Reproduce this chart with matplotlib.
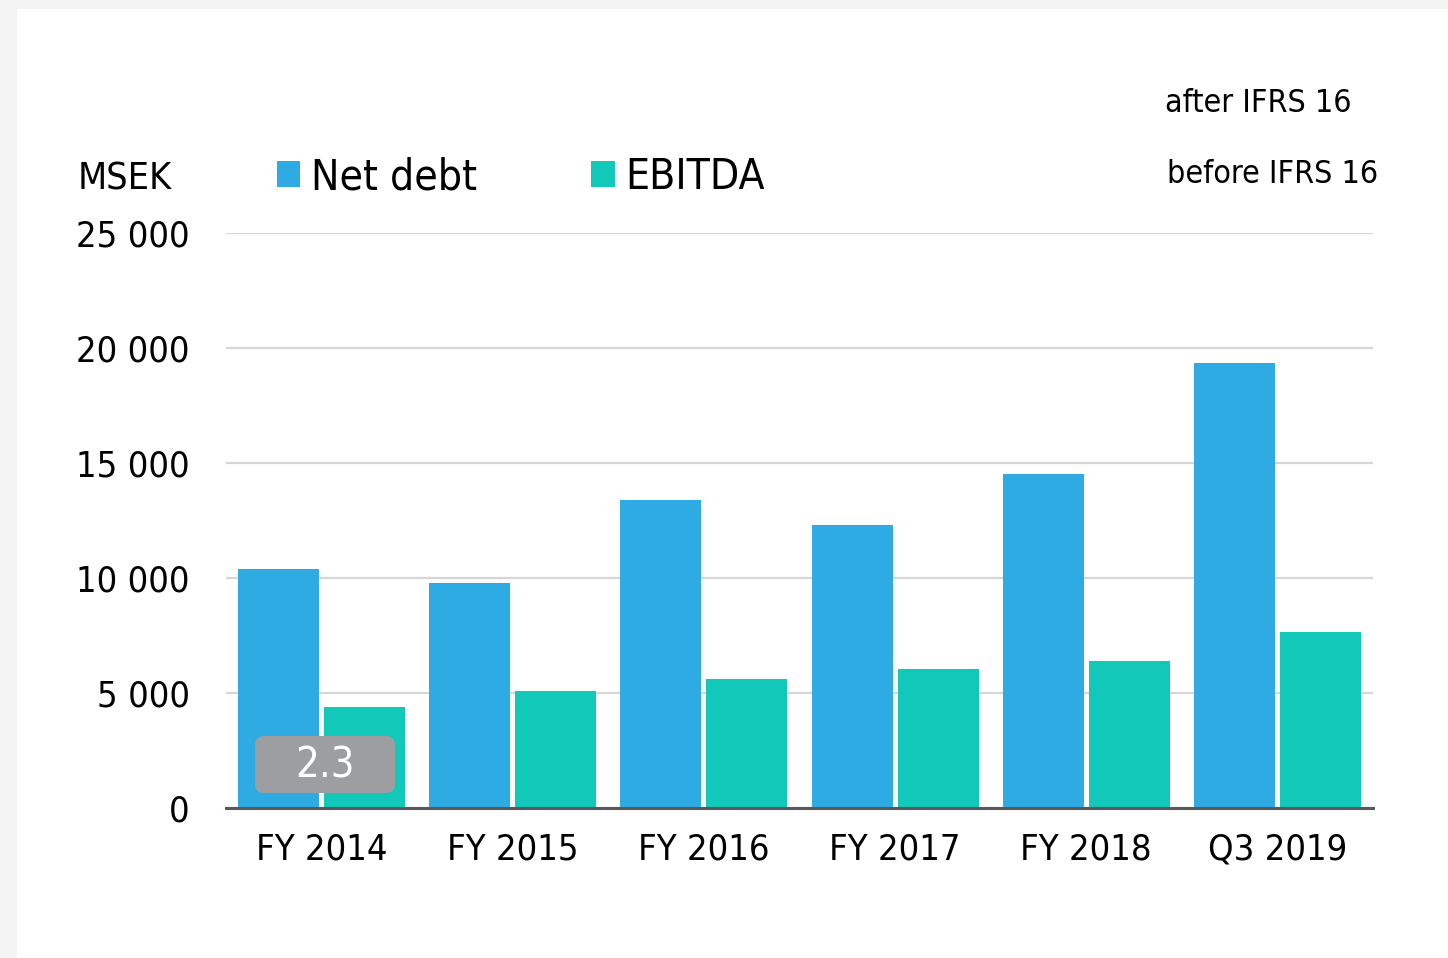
import matplotlib
matplotlib.use("Agg")
import matplotlib.pyplot as plt
from matplotlib.patches import Rectangle, FancyBboxPatch
import numpy as np

categories = ["FY 2014", "FY 2015", "FY 2016", "FY 2017", "FY 2018", "Q3 2019"]
net_debt = [10400, 9800, 13400, 12300, 14500, 19350]
ebitda = [4400, 5100, 5600, 6050, 6400, 7650]
yticks = [0, 5000, 10000, 15000, 20000, 25000]
ytick_labels = ["0", "5 000", "10 000", "15 000", "20 000", "25 000"]
ratio_label = "2.3"

BLUE = "#2FABE3"
GREEN = "#12C8B9"
W, H = 1448, 958
DPI = 100

plt.rcParams['font.family'] = ['DejaVu Sans']
plt.rcParams['font.stretch'] = 'condensed'

fig = plt.figure(figsize=(W / DPI, H / DPI), dpi=DPI)
fig.patch.set_facecolor("#F4F4F4")
fig.patches.append(Rectangle((17 / W, 0), 1 - 17 / W, (H - 9) / H,
                             transform=fig.transFigure, facecolor="white",
                             edgecolor="none", zorder=-10))

def fx(px):
    return px / W

def fy(py):
    return (H - py) / H

ax = fig.add_axes([fx(226), fy(808), fx(1373) - fx(226), fy(233) - fy(808)])
ax.set_facecolor("none")
ax.set_zorder(1)

x = np.arange(len(categories))
bw = 0.423
off = 0.225
b1 = ax.bar(x - off, net_debt, bw, color=BLUE, label="Net debt", zorder=2)
b2 = ax.bar(x + off, ebitda, bw, color=GREEN, label="EBITDA", zorder=2)

ax.set_xlim(-0.5, len(categories) - 0.5)
ax.set_ylim(0, 25000)
ax.set_yticks(yticks)
ax.set_yticklabels(ytick_labels)
ax.set_xticks(x)
ax.set_xticklabels(categories)
ax.tick_params(axis="both", length=0, labelsize=26, colors="black")
ax.tick_params(axis="y", pad=26)
ax.tick_params(axis="x", pad=17.5)
ax.grid(axis="y", color="#D6D6D6", linewidth=1.6, zorder=0)
ax.set_axisbelow(True)
for s in ["top", "right", "left"]:
    ax.spines[s].set_visible(False)
ax.spines["bottom"].set_color("#595959")
ax.spines["bottom"].set_linewidth(2.2)
ax.spines["bottom"].set_zorder(3)

# ratio box
px_x = 1 / 191.2
px_y = 25000 / 575.0
box = FancyBboxPatch((-0.348, 652), 0.732, 2478,
                     boxstyle="round,pad=0,rounding_size=%f" % (9 * px_x),
                     mutation_aspect=px_y / px_x,
                     facecolor="#9D9EA1", edgecolor="none", zorder=4)
ax.add_patch(box)
ax.text(0.018, 1860, ratio_label, color="white", fontsize=30,
        ha="center", va="center", zorder=5)

# legend
ax.legend(handles=[b1, b2], loc="center left",
          bbox_to_anchor=(fx(277), fy(177)), bbox_transform=fig.transFigure,
          ncol=2, frameon=False, fontsize=30.5, borderpad=0, borderaxespad=0,
          handlelength=0.545, handleheight=0.545, handletextpad=0.26,
          columnspacing=2.7)

fig.text(fx(78), fy(190), "MSEK", fontsize=27, ha="left", va="baseline")
fig.text(fx(1165), fy(112), "after IFRS 16", fontsize=23, ha="left", va="baseline")
fig.text(fx(1167), fy(183), "before IFRS 16", fontsize=23, ha="left", va="baseline")

fig.savefig("out.png", dpi=DPI, facecolor=fig.get_facecolor())
